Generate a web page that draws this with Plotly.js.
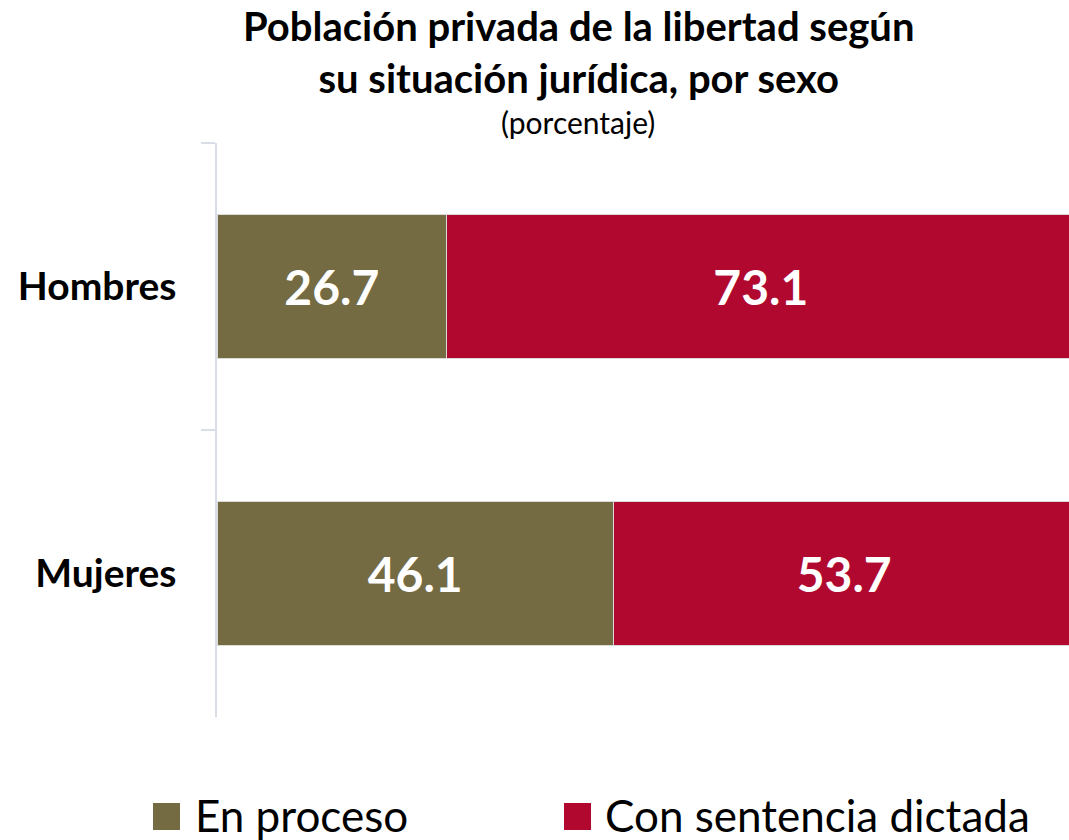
<!DOCTYPE html>
<html>
<head>
<meta charset="utf-8">
<script src="https://cdn.plot.ly/plotly-3.0.1.min.js"></script>
<style>
html,body{margin:0;padding:0;background:#fff;overflow:hidden;}
#chart{width:1069px;height:840px;}
</style>
</head>
<body>
<div id="chart"></div>
<script>
const categories = ["Hombres", "Mujeres"];
const seriesNames = ["En proceso", "Con sentencia dictada"];
const enProceso = [26.7, 46.1];
const conSentencia = [73.1, 53.7];
const colors = ["#746B43", "#B1082F"];

const FONT = "Lato, 'Open Sans', sans-serif";

const traces = [enProceso, conSentencia].map((vals, i) => ({
  type: "bar",
  orientation: "h",
  y: categories,
  x: vals,
  name: seriesNames[i],
  marker: {color: colors[i], line: {color: "#DADADA", width: 1}},
  text: vals.map(v => v.toFixed(1)),
  textposition: "inside",
  insidetextanchor: "middle",
  textfont: {family: FONT, size: 48, color: "#FFFFFF", weight: 700},
  hoverinfo: "x+y+name",
  showlegend: false
}));

// custom legend (paper coordinates: plot area spans x 217..1069, y 143..717 px)
const PW = 852, PH = 574;
const px = v => (v - 217) / PW;
const py = v => (717 - v) / PH;
const legendSquares = [153, 564];
const legendTextX = [193, 603];

const shapes = seriesNames.map((name, i) => ({
  type: "rect", xref: "paper", yref: "paper",
  x0: px(legendSquares[i]), x1: px(legendSquares[i] + 27),
  y0: py(830), y1: py(803),
  fillcolor: colors[i], line: {width: 0}
}));

const annotations = seriesNames.map((name, i) => ({
  xref: "paper", yref: "paper",
  x: px(legendTextX[i]), y: py(815),
  xanchor: "left", yanchor: "middle",
  showarrow: false, align: "left",
  text: name,
  font: {family: FONT, size: 44, color: "#000000"}
}));

annotations.push({
  xref: "paper", yref: "paper",
  x: px(578), y: py(52),
  xanchor: "center", yanchor: "middle",
  showarrow: false, align: "center",
  text: "<b>Población privada de la libertad según<br>su situación jurídica, por sexo</b>",
  font: {family: FONT, size: 40, color: "#000000"}
});

annotations.push({
  xref: "paper", yref: "paper",
  x: px(578), y: py(122),
  xanchor: "center", yanchor: "middle",
  showarrow: false,
  text: "(porcentaje)",
  font: {family: FONT, size: 30, color: "#000000"}
});

const layout = {
  width: 1069,
  height: 840,
  margin: {l: 217, r: 0, t: 143, b: 123},
  paper_bgcolor: "#FFFFFF",
  plot_bgcolor: "#FFFFFF",
  barmode: "stack",
  bargap: 0.5,
  showlegend: false,
  xaxis: {
    range: [0, 99.1],
    visible: false,
    showgrid: false,
    zeroline: false,
    fixedrange: true
  },
  yaxis: {
    type: "category",
    categoryorder: "array",
    categoryarray: categories,
    autorange: false,
    range: [1.5, -0.5],
    showline: true,
    linecolor: "#D9DEE6",
    linewidth: 1.5,
    ticks: "outside",
    tickson: "boundaries",
    ticklen: 14,
    tickcolor: "#D9DEE6",
    tickwidth: 1.5,
    showgrid: false,
    zeroline: false,
    ticklabelstandoff: 31,
    tickfont: {family: FONT, size: 39, color: "#000000", weight: 700},
    fixedrange: true
  },
  shapes: shapes,
  annotations: annotations
};

Plotly.newPlot("chart", traces, layout, {displayModeBar: false, responsive: false});
</script>
</body>
</html>
